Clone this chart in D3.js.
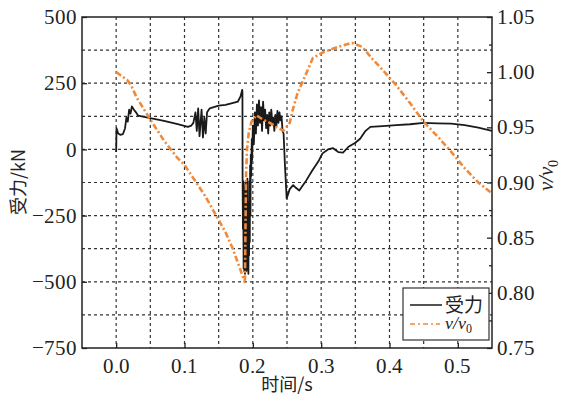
<!DOCTYPE html>
<html>
<head>
<meta charset="utf-8">
<script src="https://cdn.jsdelivr.net/npm/d3@7"></script>
<style>
  @font-face { font-family: "TickSerif"; src: local("Liberation Serif"), local("LiberationSerif"), local("Times New Roman"); font-style: normal; }
  @font-face { font-family: "TickSerif"; src: local("Liberation Serif Italic"), local("LiberationSerif-Italic"), local("Times New Roman Italic"); font-style: italic; }
  body { margin: 0; background: #fff; }
</style>
</head>
<body>
<svg id="chart" width="562" height="395"></svg>
<script>
// force curve (left axis, kN)
const forceTime = [0, 0.0005, 0.003, 0.006, 0.010, 0.013, 0.015, 0.017, 0.019, 0.021, 0.023, 0.026, 0.029, 0.032,
	0.05, 0.07, 0.09, 0.105, 0.110, 0.113, 0.116, 0.118, 0.120, 0.122, 0.125, 0.127, 0.129, 0.131, 0.133, 0.137,
	0.15, 0.16, 0.17, 0.178, 0.182, 0.1845, 0.1848,
	0.1850, 0.1855, 0.1860, 0.1865, 0.1870, 0.1875, 0.1880, 0.1885, 0.1890, 0.1895, 0.1900, 0.1905, 0.1910, 0.1915,
	0.1920, 0.1925, 0.1930, 0.1935, 0.1940, 0.1945, 0.1950, 0.1955, 0.1960, 0.1965, 0.1970, 0.1975, 0.1985, 0.1990,
	0.2000, 0.2015, 0.2030, 0.2045, 0.2060, 0.2075, 0.2090, 0.2105, 0.2120, 0.2135, 0.2150, 0.2165, 0.2180, 0.2195,
	0.2210, 0.2225, 0.2240, 0.2255, 0.2270, 0.2285, 0.2300, 0.2315, 0.2330, 0.2345, 0.2360, 0.2375, 0.2390, 0.2405,
	0.2420, 0.2435, 0.2450, 0.2470, 0.2495, 0.254, 0.259, 0.263, 0.268, 0.272, 0.278, 0.287, 0.296, 0.302, 0.310,
	0.317, 0.325, 0.332, 0.340, 0.350, 0.357, 0.365, 0.372, 0.390, 0.410, 0.430, 0.450, 0.470, 0.490, 0.510, 0.530, 0.550];
const forceKN = [-10, 80, 60, 55, 58, 80, 120, 105, 150, 135, 162, 150, 140, 128,
	118, 108, 95, 85, 90, 100, 140, 70, 155, 50, 150, 45, 120, 60, 140, 155,
	165, 168, 175, 180, 200, 225, 215,
	-100, -300, -120, -450, -140, -460, -180, -470, -130, -440, -200, -460, -150, -430,
	-110, -455, -250, -470, -200, -400, -120, -350, -60, -250, -20, -100, 40, -40,
	90, 20, 140, 60, 170, 90, 185, 100, 160, 70, 180, 110, 150, 80,
	130, 60, 140, 90, 150, 100, 120, 70, 130, 90, 145, 100, 140, 110,
	125, 70, 60, -60, -185, -150, -135, -145, -155, -140, -118, -80, -45, -15, 0,
	5, -10, -12, 10, 25, 40, 70, 85, 88, 92, 95, 100, 98, 97, 92, 82, 70];

// speed ratio (right axis, v/v0)
const velTime = [0, 0.007, 0.016, 0.022, 0.030, 0.050, 0.070, 0.090, 0.100, 0.115, 0.130, 0.150, 0.160, 0.170, 0.180, 0.1875,
	0.1885, 0.1900, 0.1915, 0.194, 0.198, 0.205, 0.215, 0.225, 0.238, 0.245, 0.254, 0.258, 0.265, 0.269, 0.279, 0.288,
	0.303, 0.325, 0.345, 0.360, 0.375, 0.390, 0.410, 0.430, 0.450, 0.470, 0.490, 0.510, 0.530, 0.550];
const velRatio = [1.000, 0.997, 0.993, 0.988, 0.977, 0.957, 0.938, 0.922, 0.916, 0.902, 0.888, 0.866, 0.855, 0.841, 0.824, 0.811,
	0.812, 0.905, 0.930, 0.945, 0.955, 0.961, 0.957, 0.954, 0.949, 0.947, 0.954, 0.965, 0.980, 0.986, 1.000, 1.013,
	1.018, 1.023, 1.0265, 1.023, 1.012, 1.002, 0.988, 0.972, 0.955, 0.942, 0.928, 0.913, 0.900, 0.890];

const xTicks = [0, 0.1, 0.2, 0.3, 0.4, 0.5];
const xGrid = [0, 0.05, 0.1, 0.15, 0.2, 0.25, 0.3, 0.35, 0.4, 0.45, 0.5];
const forceTicks = [500, 250, 0, -250, -500, -750];
const forceGrid = [375, 250, 125, 0, -125, -250, -375, -500, -625];
const velTicks = [1.05, 1.00, 0.95, 0.90, 0.85, 0.80, 0.75];
const velMinor = [1.025, 0.975, 0.925, 0.875, 0.825, 0.775];

const svg = d3.select("#chart");
const plot = { left: 82, right: 492, top: 17, bottom: 348 };

const x = d3.scaleLinear().domain([-0.05, 0.55]).range([plot.left, plot.right]);
const yF = d3.scaleLinear().domain([-750, 500]).range([plot.bottom, plot.top]);
const yV = d3.scaleLinear().domain([0.75, 1.05]).range([plot.bottom, plot.top]);

const serifStack = "TickSerif, 'Liberation Serif', 'Times New Roman', 'DejaVu Serif', serif";
const cjkStack = "'Noto Sans CJK SC', sans-serif";

// grid
const grid = svg.append("g").attr("stroke", "#333").attr("stroke-width", 1.2).attr("stroke-dasharray", "3,3");
grid.selectAll(".gx").data(xGrid).enter().append("line")
	.attr("x1", d => x(d)).attr("x2", d => x(d))
	.attr("y1", plot.top).attr("y2", plot.bottom);
grid.selectAll(".gy").data(forceGrid).enter().append("line")
	.attr("x1", plot.left).attr("x2", plot.right)
	.attr("y1", d => yF(d)).attr("y2", d => yF(d));

// series
const forceLine = d3.line().x((d, i) => x(forceTime[i])).y(d => yF(d));
const velLine = d3.line().x((d, i) => x(velTime[i])).y(d => yV(d));

svg.append("path")
	.datum(forceKN)
	.attr("fill", "none")
	.attr("stroke", "#1a1a1a")
	.attr("stroke-width", 1.8)
	.attr("stroke-linejoin", "round")
	.attr("d", forceLine);

svg.append("path")
	.datum(velRatio)
	.attr("fill", "none")
	.attr("stroke", "#f08a3a")
	.attr("stroke-width", 2.6)
	.attr("stroke-dasharray", "6,2.5,2,2.5")
	.attr("d", velLine);

// frame
svg.append("rect")
	.attr("x", plot.left).attr("y", plot.top)
	.attr("width", plot.right - plot.left).attr("height", plot.bottom - plot.top)
	.attr("fill", "none").attr("stroke", "#222").attr("stroke-width", 1.5);

// inward tick marks
svg.append("g").attr("transform", `translate(${plot.left},0)`)
	.call(d3.axisLeft(yF).tickValues(forceTicks).tickFormat("").tickSize(-5))
	.call(g => g.select(".domain").remove());
svg.append("g").attr("transform", `translate(0,${plot.bottom})`)
	.call(d3.axisBottom(x).tickValues(xTicks).tickFormat("").tickSize(-5))
	.call(g => g.select(".domain").remove());
svg.append("g").attr("transform", `translate(${plot.right},0)`)
	.call(d3.axisRight(yV).tickValues(velTicks).tickFormat("").tickSize(-5))
	.call(g => g.select(".domain").remove());
svg.append("g").attr("transform", `translate(${plot.right},0)`)
	.call(d3.axisRight(yV).tickValues(velMinor).tickFormat("").tickSize(-3))
	.call(g => g.select(".domain").remove());
svg.selectAll(".tick line").attr("stroke", "#222").attr("stroke-width", 1.3);

// tick labels
const fmtF = d => d < 0 ? "\u2212" + Math.abs(d) : String(d);
function serifText(sel, size) {
	return sel.attr("font-family", serifStack).attr("font-size", size).attr("fill", "#222")
		.style("font-family", serifStack).style("font-size", size + "px");
}

svg.selectAll(".lt").data(forceTicks).enter().append("text")
	.attr("x", plot.left - 5).attr("y", d => yF(d)).attr("dy", "0.34em")
	.attr("text-anchor", "end").call(serifText, 21)
	.text(fmtF);
svg.selectAll(".bt").data(xTicks).enter().append("text")
	.attr("x", d => x(d)).attr("y", plot.bottom + 25)
	.attr("text-anchor", "middle").call(serifText, 21)
	.text(d3.format(".1f"));
svg.selectAll(".rt").data(velTicks).enter().append("text")
	.attr("x", plot.right + 5).attr("y", d => yV(d)).attr("dy", "0.34em")
	.attr("text-anchor", "start").call(serifText, 21)
	.text(d3.format(".2f"));

// axis titles
svg.append("text")
	.attr("transform", "translate(25,182) rotate(-90)")
	.attr("text-anchor", "middle")
	.attr("font-family", "Noto Sans CJK SC").style("font-family", cjkStack)
	.attr("font-size", 18)
	.attr("fill", "#222")
	.text("受力/kN");

svg.append("text")
	.attr("x", 287).attr("y", 391)
	.attr("text-anchor", "middle")
	.attr("font-family", "Noto Sans CJK SC").style("font-family", cjkStack)
	.attr("font-size", 18)
	.attr("fill", "#222")
	.text("时间/s");

const vLabel = svg.append("text")
	.attr("transform", "translate(553,175) rotate(-90)")
	.attr("text-anchor", "middle")
	.call(serifText, 21);
vLabel.append("tspan").attr("font-style", "italic").style("font-style", "italic").text("v/v");
vLabel.append("tspan").attr("dy", 5).style("font-size", "14px").text("0");

// legend
const legend = svg.append("g").attr("transform", "translate(403,288)");
legend.append("rect")
	.attr("width", 86).attr("height", 52)
	.attr("fill", "#fff").attr("stroke", "#333").attr("stroke-width", 1.2);
legend.append("line")
	.attr("x1", 7).attr("x2", 39).attr("y1", 17).attr("y2", 17)
	.attr("stroke", "#1a1a1a").attr("stroke-width", 1.5);
legend.append("text")
	.attr("x", 42).attr("y", 24)
	.attr("font-family", "Noto Sans CJK SC").style("font-family", cjkStack)
	.attr("font-size", 19)
	.attr("fill", "#222")
	.text("受力");
legend.append("line")
	.attr("x1", 7).attr("x2", 37).attr("y1", 36).attr("y2", 36)
	.attr("stroke", "#f08a3a").attr("stroke-width", 1.5)
	.attr("stroke-dasharray", "5,3,2,3");
const lv = legend.append("text")
	.attr("x", 42).attr("y", 41)
	.call(serifText, 18);
lv.append("tspan").attr("font-style", "italic").style("font-style", "italic").text("v/v");
lv.append("tspan").attr("dy", 4).style("font-size", "12px").text("0");
</script>
</body>
</html>
